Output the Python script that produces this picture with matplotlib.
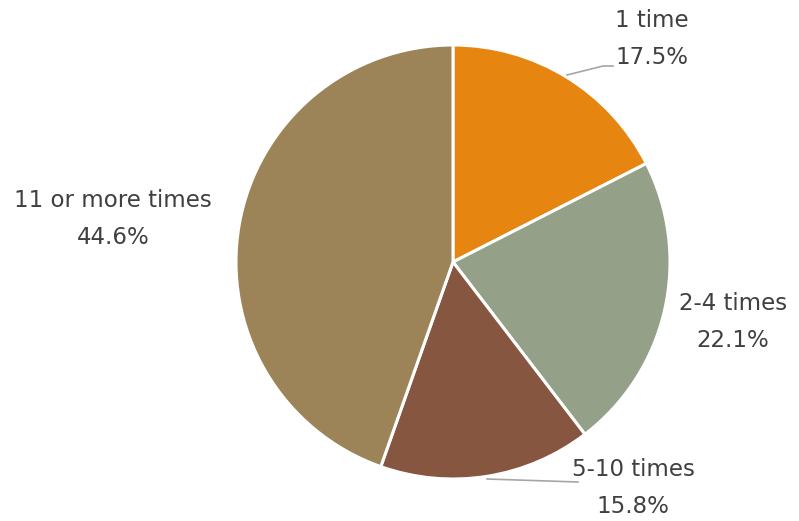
import matplotlib.pyplot as plt

labels = ["1 time", "2-4 times", "5-10 times", "11 or more times"]
values = [17.5, 22.1, 15.8, 44.6]
colors = ["#E6850F", "#94A088", "#875640", "#9C8358"]

# label anchor positions (pixel coords, y from top)
label_pos = [(652, 39), (733, 322), (633, 488), (113, 219)]

W, H = 799, 521
fig = plt.figure(figsize=(W / 100, H / 100), dpi=100)
ax = fig.add_axes([0, 0, 1, 1])

cx, cy, r = 453, H - 262, 217
ax.pie(values, colors=colors, startangle=90, counterclock=False,
       center=(cx, cy), radius=r, frame=True,
       wedgeprops=dict(edgecolor="white", linewidth=2.2))
ax.set_xlim(0, W)
ax.set_ylim(0, H)
ax.set_aspect("equal")
ax.axis("off")

for lab, v, (px, py) in zip(labels, values, label_pos):
    ax.text(px, H - py, f"{lab}\n{v:.1f}%", ha="center", va="center",
            fontsize=16.5, color="#404040", linespacing=1.75)

# leader lines
ax.plot([567, 603, 613], [H - 75, H - 66, H - 66], color="#A6A6A6", lw=1.2)
ax.plot([487, 578], [H - 479, H - 482], color="#A6A6A6", lw=1.2)

fig.savefig("out.png", dpi=100)
